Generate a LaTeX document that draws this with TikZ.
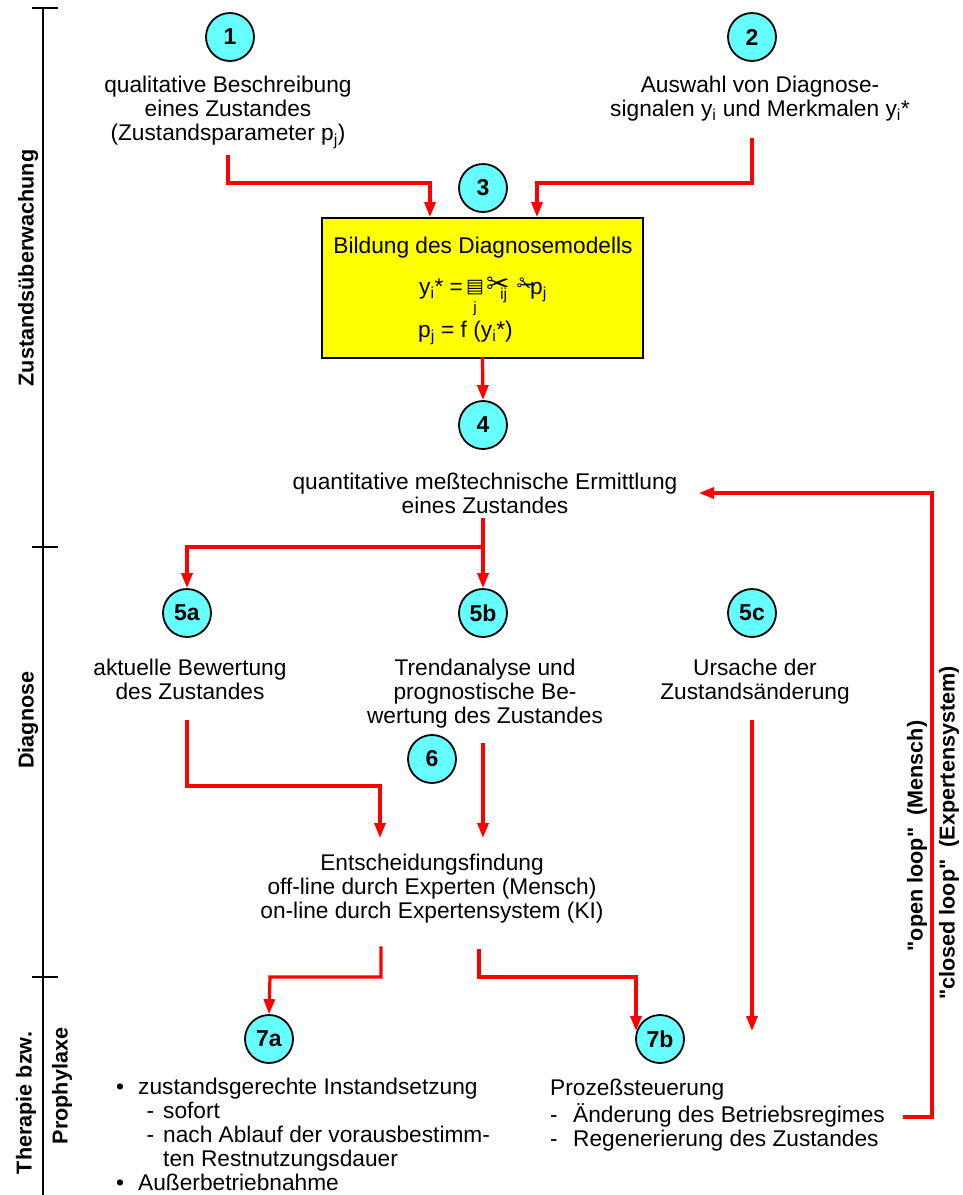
\documentclass[tikz,border=0pt]{standalone}
\usepackage{fontspec}
\setmainfont{Liberation Sans}
\newfontfamily\symfont{DejaVu Sans}
\usetikzlibrary{arrows.meta}
\definecolor{flowred}{HTML}{FF0000}
\definecolor{stepcyan}{HTML}{66FFFF}
\definecolor{boxyellow}{HTML}{FFFF00}

\begin{document}
\begin{tikzpicture}[x=1pt,y=-1pt,
  flow/.style={draw=flowred, line width=3.2pt, line cap=rect, -{Triangle[length=15pt,width=11pt]}},
  num/.style={circle, draw, line width=1.8pt, fill=stepcyan, minimum size=48pt, inner sep=0pt,
    font=\fontsize{23}{23}\selectfont\bfseries},
  txt/.style={font=\fontsize{22.7}{24.3}\selectfont, align=center, inner sep=0pt, anchor=north, yshift=17.01pt},
  ltxt/.style={txt, align=left, anchor=north west, font=\fontsize{22.7}{24.1}\selectfont},
  ftxt/.style={font=\fontsize{22.7}{24.3}\selectfont, inner sep=0pt, anchor=base west},
  sym/.style={font=\symfont\fontsize{17}{17}\selectfont, inner sep=0pt, anchor=base west},
  lab/.style={font=\fontsize{21.6}{24}\selectfont\bfseries, inner sep=0pt, rotate=90},
  axis/.style={line width=2.6pt},
]
\useasboundingbox (0,0) rectangle (963,1195);
\fill[white] (0,0) rectangle (963,1195);

% phase axis on the left
\coordinate (ax0) at (43,8);
\coordinate (ax1) at (43,547);
\coordinate (ax2) at (43,977);
\coordinate (ax3) at (43,1195);
\draw[axis] (ax0) -- (ax3);
\draw[axis] ([xshift=-11pt]ax0) -- ([xshift=15pt]ax0);
\draw[axis] ([xshift=-11pt]ax1) -- ([xshift=15pt]ax1);
\draw[axis] ([xshift=-11pt]ax2) -- ([xshift=15pt]ax2);
\node[lab] (lz) at (28,268) {Zustandsüberwachung};
\node[lab] (ld) at (28,720) {Diagnose};
\node[lab] (lt) at (26,1103) {Therapie bzw.};
\node[lab] (lp) at (62,1086) {Prophylaxe};

% numbered steps
\node[num] (c1) at (230,37) {1};
\node[num] (c2) at (752,37) {2};
\node[num] (c3) at (483,188) {3};
\node[num] (c4) at (483,425) {4};
\node[num] (c5a) at (187,613) {5a};
\node[num] (c5b) at (483,613) {5b};
\node[num] (c5c) at (752,613) {5c};
\node[num] (c6) at (432,759) {6};
\node[num] (c7a) at (269,1039) {7a};
\node[num] (c7b) at (660,1039) {7b};

% step texts
\node[txt] (t1) at (228,92) {\strut qualitative Beschreibung\\eines Zustandes\\(Zustandsparameter p\textsubscript{j})};
\node[txt] (t2) at (760,92) {\strut Auswahl von Diagnose-\\signalen y\textsubscript{i} und Merkmalen y\textsubscript{i}*};
\node[txt] (t4) at (485,489) {\strut quantitative meßtechnische Ermittlung\\eines Zustandes};
\node[txt] (t5a) at (190,675) {\strut aktuelle Bewertung\\des Zustandes};
\node[txt] (t5b) at (485,675) {\strut Trendanalyse und\\prognostische Be-\\wertung des Zustandes};
\node[txt] (t5c) at (755,675) {\strut Ursache der\\Zustandsänderung};
\node[txt] (t6) at (432,870) {\strut Entscheidungsfindung\\off-line durch Experten (Mensch)\\on-line durch Expertensystem (KI)};
\node[ltxt] (t7a) at (116,1094) {\strut\makebox[22pt][l]{•}zustandsgerechte Instandsetzung\\
  \hspace*{30.5pt}\makebox[16.5pt][l]{-}sofort\\
  \hspace*{30.5pt}\makebox[16.5pt][l]{-}nach Ablauf der vorausbestimm-\\
  \hspace*{47pt}ten Restnutzungsdauer\\
  \makebox[22pt][l]{•}Außerbetriebnahme};
\node[ltxt] (t7b) at (550,1095) {\strut Prozeßsteuerung\\
  \makebox[23pt][l]{-}Änderung des Betriebsregimes\\
  \makebox[23pt][l]{-}Regenerierung des Zustandes};

% diagnosis model box
\node[draw, line width=1.8pt, fill=boxyellow, minimum width=321pt, minimum height=140pt, inner sep=0pt] (model) at (482.5,288) {};
\node[txt] (mt) at (483,253) {\strut Bildung des Diagnosemodells};
\node[ftxt] (fy) at (419,294) {y\textsubscript{i}* =};
\node[sym, font=\symfont\fontsize{19}{19}\selectfont] (fsum) at (466,292) {▤};
\node[inner sep=0pt, anchor=base, font=\fontsize{15}{15}\selectfont] (fj) at (475,312) {j};
\node[sym, font=\symfont\fontsize{28}{28}\selectfont] (fa) at (486,293) {✂};
\node[inner sep=0pt, anchor=base west, font=\fontsize{15.9}{16}\selectfont] (fij) at (500,299) {ij};
\node[sym, font=\symfont\fontsize{23}{23}\selectfont] (fx) at (517,292) {✁};
\node[ftxt] (fp) at (530,294) {p\textsubscript{j}};
\node[ftxt] (pf) at (418,337) {p\textsubscript{j} = f (y\textsubscript{i}*)};

% loop labels
\node[lab] (lo) at (917,836) {\textquotedbl open loop\textquotedbl\ \ (Mensch)};
\node[lab] (lc) at (949,833) {\textquotedbl closed loop\textquotedbl\ \ (Expertensystem)};

% connector bends and free ends
\coordinate (s1) at (228,157);
\coordinate (k1) at (430,183);
\coordinate (s2) at (752,140);
\coordinate (k2) at (537,183);
\coordinate (s4) at (483,520);
\coordinate (k4) at (483,547);
\coordinate (s5a) at (187,722);
\coordinate (k5) at (380,786);
\coordinate (s5b) at (483,745);
\coordinate (e6) at (0,838);
\coordinate (s6a) at (381,948);
\coordinate (k6a) at (270,977);
\coordinate (s6b) at (479,951);
\coordinate (k6b) at (636,977);
\coordinate (e7) at (0,1031);
\coordinate (s5c) at (752,722);
\coordinate (s7b) at (905,1117);
\coordinate (k9) at (932,493);
\coordinate (e4) at (699,493);

% connectors
\draw[flow] (s1) |- (k1) -- (k1 |- model.north);
\draw[flow] (s2) |- (k2) -- (k2 |- model.north);
\draw[flow] (model.south) -- (c4.north);
\draw[flow] (s4) -- (c5b.north);
\draw[flow] (k4) -| (c5a.north);
\draw[flow] (s5a) |- (k5) -- (k5 |- e6);
\draw[flow] (s5b) -- (s5b |- e6);
\draw[flow] (s6a) |- (k6a) -- (c7a.north);
\draw[flow] (s6b) |- (k6b) -- (k6b |- e7);
\draw[flow] (s5c) -- (s5c |- e7);
\draw[flow] (s7b) -| (k9) -- (e4);
\end{tikzpicture}
\end{document}
